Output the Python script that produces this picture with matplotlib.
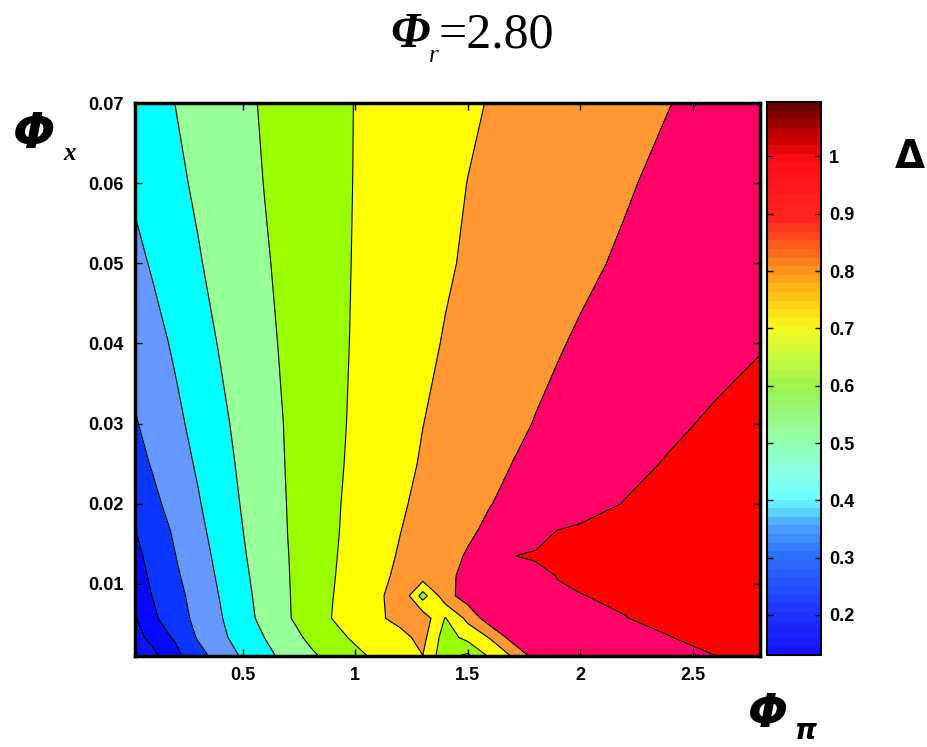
import numpy as np
import matplotlib
matplotlib.use('Agg')
import matplotlib.pyplot as plt
import matplotlib.cm as cm
from matplotlib.colors import LinearSegmentedColormap, Normalize

# grid
phi_pi = [0.02, 0.1, 0.2, 0.3, 0.4, 0.5, 0.6, 0.7, 0.8, 0.9, 1.0, 1.1, 1.2,
          1.3, 1.4, 1.5, 1.6, 1.7, 1.8, 1.9, 2.0, 2.2, 2.4, 2.6, 2.8]
phi_x = [0.001, 0.0033, 0.0057, 0.0085, 0.011, 0.0135, 0.0165, 0.02,
         0.025, 0.03, 0.04, 0.05, 0.06, 0.07]

# one row of Delta per phi_x value
delta = [
    [0.13, 0.142, 0.175, 0.262, 0.345, 0.412, 0.475, 0.531, 0.583, 0.631, 0.678, 0.72, 0.758,
     0.799, 0.63, 0.58, 0.72, 0.809, 0.939, 0.95, 0.96, 0.975, 0.99, 0.999, 1.04],
    [0.14, 0.159, 0.21, 0.309, 0.379, 0.442, 0.503, 0.562, 0.619, 0.671, 0.715, 0.745, 0.77,
     0.83, 0.65, 0.733, 0.807, 0.94, 0.955, 0.968, 0.978, 0.99, 0.998, 1.03, 1.07],
    [0.147, 0.184, 0.254, 0.327, 0.393, 0.464, 0.53, 0.591, 0.652, 0.703, 0.744, 0.784, 0.83,
     0.86, 0.695, 0.825, 0.96, 0.968, 0.975, 0.98, 0.985, 0.998, 1.023, 1.05, 1.08],
    [0.16, 0.203, 0.27, 0.337, 0.405, 0.474, 0.536, 0.594, 0.647, 0.699, 0.735, 0.765, 0.893,
     0.66, 0.86, 0.95, 0.965, 0.975, 0.985, 0.992, 0.998, 1.012, 1.035, 1.06, 1.09],
    [0.17, 0.214, 0.286, 0.351, 0.416, 0.483, 0.541, 0.596, 0.646, 0.695, 0.737, 0.779, 0.817,
     0.852, 0.887, 0.914, 0.937, 0.959, 0.982, 1.002, 1.013, 1.035, 1.057, 1.078, 1.1],
    [0.18, 0.226, 0.299, 0.363, 0.426, 0.491, 0.548, 0.598, 0.645, 0.692, 0.732, 0.771, 0.808,
     0.84, 0.873, 0.907, 0.951, 0.999, 1.007, 1.016, 1.024, 1.04, 1.057, 1.074, 1.09],
    [0.197, 0.244, 0.315, 0.377, 0.437, 0.499, 0.551, 0.601, 0.645, 0.689, 0.727, 0.764, 0.799,
     0.829, 0.859, 0.888, 0.917, 0.946, 0.974, 1.003, 1.012, 1.03, 1.047, 1.065, 1.08],
    [0.215, 0.277, 0.338, 0.392, 0.451, 0.508, 0.556, 0.603, 0.645, 0.687, 0.723, 0.757, 0.79,
     0.819, 0.845, 0.872, 0.898, 0.917, 0.934, 0.952, 0.97, 1.003, 1.026, 1.048, 1.07],
    [0.265, 0.309, 0.36, 0.411, 0.467, 0.518, 0.562, 0.606, 0.645, 0.683, 0.717, 0.748, 0.779,
     0.807, 0.831, 0.854, 0.878, 0.901, 0.916, 0.932, 0.947, 0.978, 1.007, 1.028, 1.05],
    [0.293, 0.331, 0.379, 0.429, 0.481, 0.527, 0.568, 0.608, 0.644, 0.68, 0.713, 0.741, 0.77,
     0.799, 0.82, 0.841, 0.862, 0.883, 0.903, 0.916, 0.93, 0.958, 0.985, 1.012, 1.03],
    [0.332, 0.368, 0.414, 0.462, 0.507, 0.544, 0.581, 0.616, 0.647, 0.678, 0.708, 0.733, 0.758,
     0.783, 0.805, 0.823, 0.841, 0.859, 0.877, 0.895, 0.908, 0.928, 0.949, 0.97, 0.995],
    [0.375, 0.41, 0.451, 0.493, 0.527, 0.56, 0.593, 0.622, 0.65, 0.678, 0.705, 0.726, 0.748,
     0.77, 0.791, 0.809, 0.825, 0.84, 0.855, 0.871, 0.886, 0.91, 0.93, 0.95, 0.97],
    [0.417, 0.447, 0.483, 0.513, 0.543, 0.573, 0.603, 0.628, 0.653, 0.678, 0.703, 0.722, 0.742,
     0.761, 0.781, 0.801, 0.813, 0.827, 0.84, 0.853, 0.867, 0.893, 0.918, 0.934, 0.95],
    [0.46, 0.478, 0.501, 0.529, 0.556, 0.584, 0.609, 0.633, 0.656, 0.679, 0.702, 0.719, 0.736,
     0.753, 0.771, 0.788, 0.804, 0.815, 0.827, 0.839, 0.851, 0.875, 0.899, 0.915, 0.93],
]

levels = [0.1, 0.15, 0.2, 0.3, 0.4, 0.5, 0.6, 0.7, 0.8, 0.9, 1.0, 1.15]
band_colors = ['#0a14ff', '#0808ff', '#0a36ff', '#6699ff', '#00ffff', '#99ff99',
               '#99ff00', '#ffff00', '#ff9933', '#ff0066', '#ff0000']

xticks = [0.5, 1, 1.5, 2, 2.5]
xtick_labels = ['0.5', '1', '1.5', '2', '2.5']
yticks = [0.01, 0.02, 0.03, 0.04, 0.05, 0.06, 0.07]
ytick_labels = ['0.01', '0.02', '0.03', '0.04', '0.05', '0.06', '0.07']
cb_ticks = [0.2, 0.3, 0.4, 0.5, 0.6, 0.7, 0.8, 0.9, 1.0]
cb_labels = ['0.2', '0.3', '0.4', '0.5', '0.6', '0.7', '0.8', '0.9', '1']

# colour ramp of the colour bar
cb_nodes = [
    (0.00, (0.08, 0.08, 1.00)),
    (0.07, (0.12, 0.20, 1.00)),
    (0.18, (0.18, 0.45, 1.00)),
    (0.23, (0.30, 0.65, 1.00)),
    (0.28, (0.42, 1.00, 1.00)),
    (0.33, (0.55, 1.00, 0.90)),
    (0.38, (0.58, 1.00, 0.70)),
    (0.48, (0.60, 0.95, 0.32)),
    (0.53, (0.75, 0.98, 0.25)),
    (0.59, (0.95, 0.98, 0.15)),
    (0.62, (1.00, 0.88, 0.08)),
    (0.69, (0.98, 0.62, 0.10)),
    (0.74, (1.00, 0.38, 0.12)),
    (0.79, (1.00, 0.15, 0.12)),
    (0.90, (1.00, 0.05, 0.10)),
    (0.93, (0.85, 0.00, 0.00)),
    (1.00, (0.42, 0.00, 0.00)),
]

fig = plt.figure(figsize=(9.28, 7.47), dpi=100)
ax = fig.add_axes([0.1455, 0.122, 0.6735, 0.740])

X, Y = np.meshgrid(phi_pi, phi_x)
Z = np.array(delta)
ax.contourf(X, Y, Z, levels=levels, colors=band_colors)
ax.contour(X, Y, Z, levels=levels[1:-1], colors='k', linewidths=0.8)

ax.set_xlim(0.02, 2.8)
ax.set_ylim(0.001, 0.07)
ax.set_xticks(xticks)
ax.set_xticklabels(xtick_labels)
ax.set_yticks(yticks)
ax.set_yticklabels(ytick_labels)
ax.tick_params(direction='in', length=5, width=1, top=True, right=True, pad=8)
for lab in ax.get_xticklabels() + ax.get_yticklabels():
    lab.set_fontfamily('Liberation Sans')
    lab.set_fontweight('bold')
    lab.set_fontsize(13)
for sp in ax.spines.values():
    sp.set_linewidth(2.5)

# colour bar
cax = fig.add_axes([0.8265, 0.123, 0.058, 0.7405])
cmap = LinearSegmentedColormap.from_list('delta', cb_nodes, N=64)
sm = cm.ScalarMappable(norm=Normalize(0.13, 1.095), cmap=cmap)
cb = fig.colorbar(sm, cax=cax, ticks=cb_ticks)
cb.ax.set_yticklabels(cb_labels)
cb.ax.tick_params(direction='in', length=4, width=1, left=True, right=True, pad=6)
for lab in cb.ax.get_yticklabels():
    lab.set_fontfamily('Liberation Sans')
    lab.set_fontweight('bold')
    lab.set_fontsize(13)
cb.outline.set_linewidth(1.5)

# title, built from pieces so the Phi can be bold italic
fig.text(0.463, 0.953, 'Φ', fontsize=36, fontweight='bold', fontstyle='italic',
         fontfamily='Liberation Serif', ha='right', va='center')
fig.text(0.462, 0.925, 'r', fontsize=18, fontstyle='italic',
         fontfamily='Liberation Serif', ha='left', va='center')
fig.text(0.472, 0.953, '=2.80', fontsize=36, fontfamily='Liberation Serif',
         ha='left', va='center')

# axis names
fig.text(0.014, 0.82, 'Φ', fontsize=36, fontweight='bold', fontstyle='italic',
         fontfamily='DejaVu Sans', ha='left', va='center')
fig.text(0.068, 0.795, 'x', fontsize=18, fontweight='bold', fontstyle='italic',
         fontfamily='Liberation Serif', ha='left', va='center')
fig.text(0.806, 0.043, 'Φ', fontsize=34, fontweight='bold', fontstyle='italic',
         fontfamily='DejaVu Sans', ha='left', va='center')
fig.text(0.857, 0.022, 'π', fontsize=20, fontweight='bold', fontstyle='italic',
         fontfamily='DejaVu Sans', ha='left', va='center')
fig.text(0.98, 0.79, 'Δ', fontsize=28, fontweight='bold', fontfamily='DejaVu Sans',
         ha='center', va='center')

fig.savefig('out.png', dpi=100)
